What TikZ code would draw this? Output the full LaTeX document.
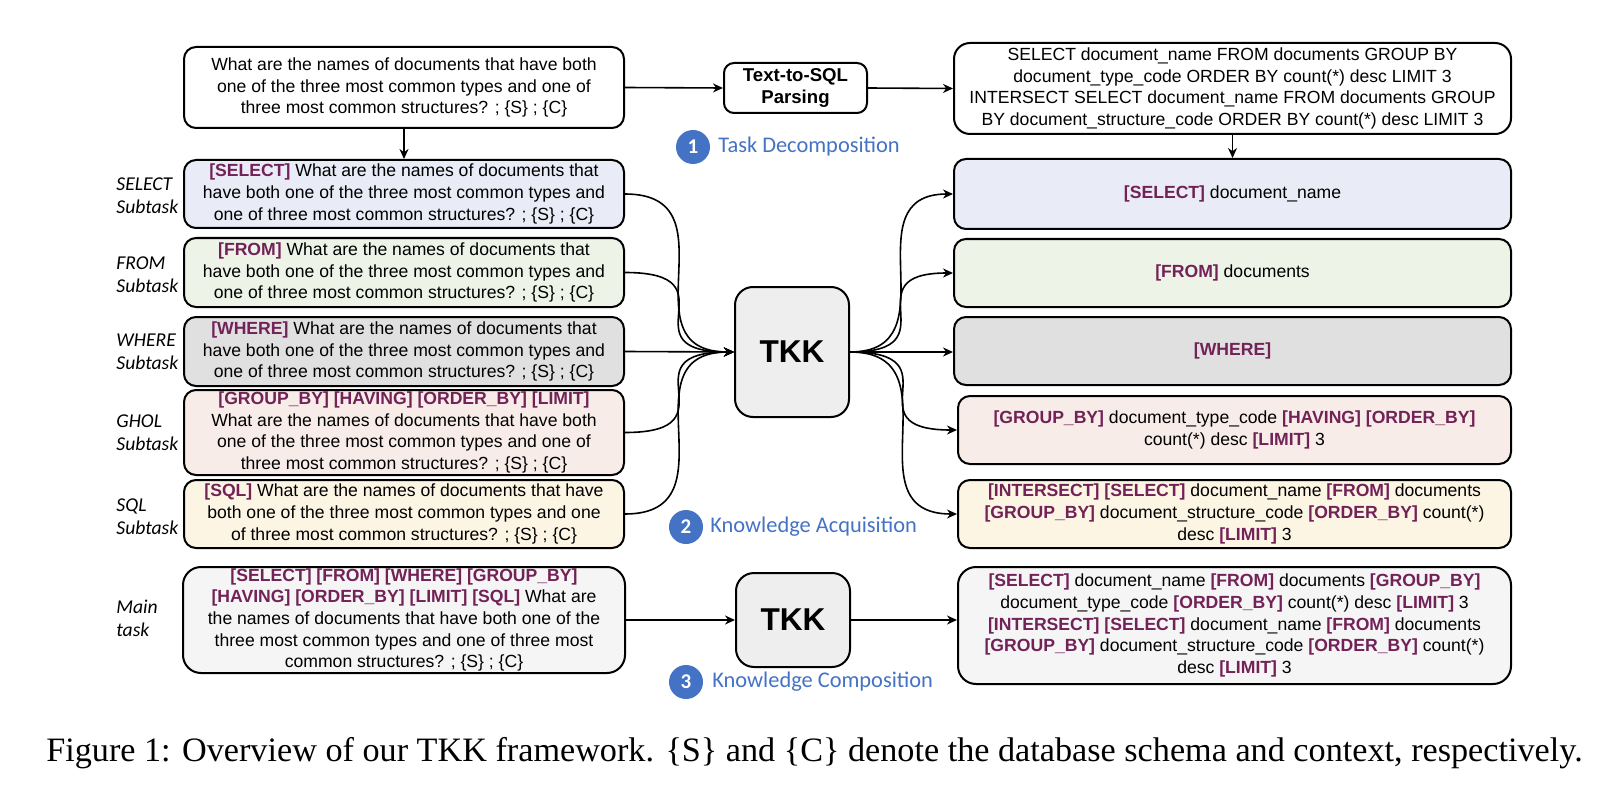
\documentclass[tikz,border=0pt]{standalone}
\usepackage{fontspec}
\setmainfont{Liberation Sans}
\newfontfamily\capfont{Liberation Serif}
\newfontfamily\calfont{Carlito}
\usetikzlibrary{arrows.meta}
\definecolor{kwcol}{HTML}{722257}
\definecolor{selfill}{HTML}{E9ECF6}
\definecolor{fromfill}{HTML}{EEF3E8}
\definecolor{wherefill}{HTML}{E0E0E0}
\definecolor{gholfill}{HTML}{F7ECE7}
\definecolor{sqlfill}{HTML}{FDF5E4}
\definecolor{mainfill}{HTML}{F5F5F5}
\definecolor{tkkfill}{HTML}{EEEEEE}
\definecolor{stepblue}{HTML}{4472C4}
\newcommand{\kwd}[1]{\textcolor{kwcol}{\textbf{#1}}}
\tikzset{
  box/.style={draw, line width=1pt, rounded corners=6pt, inner sep=0pt, align=center,
    font=\fontsize{8.8}{10.85}\selectfont},
  tkkbox/.style={draw, line width=1pt, rounded corners=9pt, inner sep=0pt, fill=tkkfill,
    minimum width=57pt, font=\fontsize{15.8}{18}\selectfont\bfseries},
  arr/.style={-{Stealth[length=5pt,width=4.5pt]}, line width=0.8pt},
  tasklabel/.style={anchor=west, align=left, inner sep=0pt,
    font=\calfont\itshape\fontsize{9.8}{11.6}\selectfont},
  stepnum/.style={circle, fill=stepblue, text=white, minimum size=17pt, inner sep=0pt,
    font=\calfont\bfseries\fontsize{10.5}{11}\selectfont},
  steptext/.style={anchor=west, inner sep=0pt, text=stepblue,
    font=\calfont\fontsize{11.2}{13}\selectfont}
}
\begin{document}
\begin{tikzpicture}[x=0.5pt, y=-0.5pt]
\useasboundingbox (0,0) rectangle (1615,802);

% top row
\node[box, minimum width=220pt, minimum height=40.5pt] (q) at (404,87.5)
  {What are the names of documents that have both\\one of the three most common types and one of\\three most common structures? ; \{S\} ; \{C\}};
\node[box, minimum width=71.5pt, minimum height=25pt, rounded corners=5pt,
  font=\fontsize{9.3}{10.6}\selectfont\bfseries] (tts) at (795.5,88) {Text-to-SQL\\Parsing};
\node[box, minimum width=278.5pt, minimum height=45.5pt, rounded corners=8pt] (sqlq) at (1232.5,88.5)
  {SELECT document\_name FROM documents GROUP BY\\document\_type\_code ORDER BY count(*) desc LIMIT 3\\INTERSECT SELECT document\_name FROM documents GROUP\\BY document\_structure\_code ORDER BY count(*) desc LIMIT 3};

% left subtasks
\node[box, fill=selfill, minimum width=220pt, minimum height=34pt] (sel) at (404,194)
  {\kwd{[SELECT]} What are the names of documents that\\have both one of the three most common types and\\one of three most common structures? ; \{S\} ; \{C\}};
\node[box, fill=fromfill, minimum width=220pt, minimum height=34.5pt] (from) at (404,272.5)
  {\kwd{[FROM]} What are the names of documents that\\have both one of the three most common types and\\one of three most common structures? ; \{S\} ; \{C\}};
\node[box, fill=wherefill, minimum width=220pt, minimum height=34.5pt] (where) at (404,351.5)
  {\kwd{[WHERE]} What are the names of documents that\\have both one of the three most common types and\\one of three most common structures? ; \{S\} ; \{C\}};
\node[box, fill=gholfill, minimum width=220pt, minimum height=42.5pt] (ghol) at (404,432.5)
  {\kwd{[GROUP\_BY] [HAVING] [ORDER\_BY] [LIMIT]}\\What are the names of documents that have both\\one of the three most common types and one of\\three most common structures? ; \{S\} ; \{C\}};
\node[box, fill=sqlfill, minimum width=220pt, minimum height=34pt] (sql) at (404,514)
  {\kwd{[SQL]} What are the names of documents that have\\both one of the three most common types and one\\of three most common structures? ; \{S\} ; \{C\}};
\node[box, fill=mainfill, minimum width=221pt, minimum height=53pt, rounded corners=9pt] (main) at (404,620)
  {\kwd{[SELECT] [FROM] [WHERE] [GROUP\_BY]}\\\kwd{[HAVING] [ORDER\_BY] [LIMIT] [SQL]} What are\\the names of documents that have both one of the\\three most common types and one of three most\\common structures? ; \{S\} ; \{C\}};

% labels
\node[tasklabel] (lsel) at (116,196) {SELECT\\Subtask};
\node[tasklabel] (lfrom) at (116,275) {FROM\\Subtask};
\node[tasklabel] (lwhere) at (116,352) {WHERE\\Subtask};
\node[tasklabel] (lghol) at (116,433) {GHOL\\Subtask};
\node[tasklabel] (lsql) at (116,517) {SQL\\Subtask};
\node[tasklabel] (lmain) at (116,618) {Main\\task};

% TKK
\node[tkkbox, minimum height=65pt] (tkk1) at (792,352) {TKK};
\node[tkkbox, minimum height=47pt] (tkk2) at (793,620) {TKK};

% right outputs
\node[box, fill=selfill, minimum width=278.5pt, minimum height=35pt] (rsel) at (1232.5,194)
  {\kwd{[SELECT]} document\_name};
\node[box, fill=fromfill, minimum width=278.5pt, minimum height=34pt] (rfrom) at (1232.5,273)
  {\kwd{[FROM]} documents};
\node[box, fill=wherefill, minimum width=278.5pt, minimum height=34pt] (rwhere) at (1232.5,351)
  {\kwd{[WHERE]}};
\node[box, fill=gholfill, minimum width=276.5pt, minimum height=34pt] (rghol) at (1234.5,430)
  {\kwd{[GROUP\_BY]} document\_type\_code \kwd{[HAVING]} \kwd{[ORDER\_BY]}\\count(*) desc \kwd{[LIMIT]} 3};
\node[box, fill=sqlfill, minimum width=276.5pt, minimum height=34pt] (rsql) at (1234.5,514)
  {\kwd{[INTERSECT]} \kwd{[SELECT]} document\_name \kwd{[FROM]} documents\\\kwd{[GROUP\_BY]} document\_structure\_code \kwd{[ORDER\_BY]} count(*)\\desc \kwd{[LIMIT]} 3};
\node[box, fill=mainfill, minimum width=276.5pt, minimum height=58.5pt, rounded corners=9pt] (rmain) at (1234.5,625.5)
  {\kwd{[SELECT]} document\_name \kwd{[FROM]} documents \kwd{[GROUP\_BY]}\\document\_type\_code \kwd{[ORDER\_BY]} count(*) desc \kwd{[LIMIT]} 3\\\kwd{[INTERSECT]} \kwd{[SELECT]} document\_name \kwd{[FROM]} documents\\\kwd{[GROUP\_BY]} document\_structure\_code \kwd{[ORDER\_BY]} count(*)\\desc \kwd{[LIMIT]} 3};

% step markers
\node[stepnum] (c1) at (693,147) {1};
\node[steptext] (t1) at (718,147) {Task Decomposition};
\node[stepnum] (c2) at (686,527) {2};
\node[steptext] (t2) at (710,527) {Knowledge Acquisition};
\node[stepnum] (c3) at (686,682) {3};
\node[steptext] (t3) at (712,682) {Knowledge Composition};

% connectors
\draw[arr] (q.east) -- (tts.west);
\draw[arr] (tts.east) -- (sqlq.west);
\draw[arr] (q.south) -- (sel.north);
\draw[arr] (sqlq.south) -- (rsel.north);

\foreach \s in {sel,from,ghol,sql}
  \draw[arr] (\s.east) .. controls +(112,0) and +(-112,0) .. (tkk1.west);
\draw[arr] (where.east) -- (tkk1.west);

\foreach \t in {rsel,rfrom}
  \draw[arr] (tkk1.east) .. controls +(104,0) and +(-104,0) .. (\t.west);
\draw[arr] (tkk1.east) -- (tkk1.east -| rwhere.west);
\foreach \t in {rghol,rsql}
  \draw[arr] (tkk1.east) .. controls +(109,0) and +(-109,0) .. (\t.west);

\draw[arr] (main.east) -- (tkk2.west);
\draw[arr] (tkk2.east) -- (tkk2.east -| rmain.west);

% caption
\node[inner sep=0pt, font=\capfont\fontsize{17.1}{19}\selectfont] (cap) at (814.5,753)
  {Figure 1: Overview of our TKK framework. \{S\} and \{C\} denote the database schema and context, respectively.};
\end{tikzpicture}
\end{document}
